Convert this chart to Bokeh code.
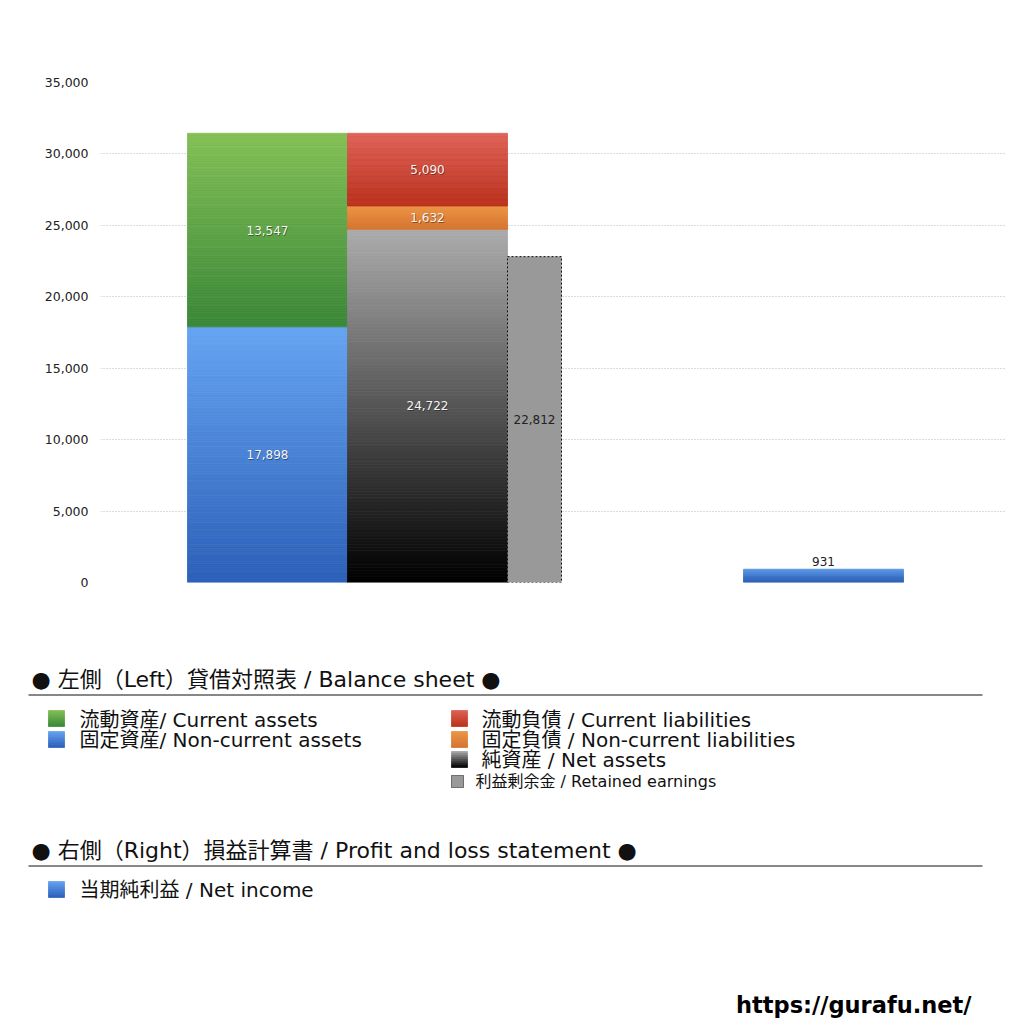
from bokeh.plotting import figure
from bokeh.models import Range1d, FixedTicker, NumeralTickFormatter, ColumnDataSource
from bokeh.embed import file_html
from bokeh.resources import INLINE
from bokeh.core.properties import value

# ---------------- data ----------------
current_assets = 13547
noncurrent_assets = 17898
current_liabilities = 5090
noncurrent_liabilities = 1632
net_assets = 24722
retained_earnings = 22812
net_income = 931
y_ticks = [0, 5000, 10000, 15000, 20000, 25000, 30000, 35000]

legend_left = ["流動資産/ Current assets", "固定資産/ Non-current assets"]
legend_right = ["流動負債 /  Current liabilities", "固定負債 / Non-current liabilities", "純資産 / Net assets"]
legend_retained = "利益剰余金 / Retained earnings"
heading_bs = "● 左側（Left）貸借対照表 / Balance sheet ●"
heading_pl = "● 右側（Right）損益計算書 / Profit and loss statement ●"
legend_pl = "当期純利益 / Net income"
url_text = "https://gurafu.net/"

FONT = "DejaVu Sans, Noto Sans CJK JP"

# ---------------- styles ----------------
GREEN = ((132, 192, 86), (58, 135, 56))
BLUE = ((102, 164, 242), (44, 96, 184))
RED = ((222, 98, 86), (186, 48, 28))
ORANGE = ((236, 150, 70), (214, 116, 48))
GRAY = ((172, 172, 172), (0, 0, 0))
NI_BLUE = ((92, 152, 232), (40, 92, 180))


def hexc(c):
    return "#%02x%02x%02x" % tuple(int(round(v)) for v in c)


def gradient(p, left, right, y_top, y_bot, cols, n=120):
    c_top, c_bot = cols
    L, R, T, B, C = [], [], [], [], []
    for i in range(n):
        t0 = i / n
        t1 = (i + 1) / n
        tm = (i + 0.5) / n
        L.append(left)
        R.append(right)
        T.append(y_top + (y_bot - y_top) * t0)
        B.append(y_top + (y_bot - y_top) * t1)
        C.append(hexc([a + (b - a) * tm for a, b in zip(c_top, c_bot)]))
    src = ColumnDataSource(dict(left=L, right=R, top=T, bottom=B, color=C))
    p.quad(left="left", right="right", top="top", bottom="bottom", source=src,
           fill_color="color", line_color="color", line_width=0.8)


# ---------------- chart figure ----------------
p = figure(width=1020, height=630, output_backend="svg", toolbar_location=None,
           x_range=Range1d(100, 1005), y_range=Range1d(0, 35000),
           min_border_left=100, min_border_right=15, min_border_top=82, min_border_bottom=48)
p.xaxis.visible = False
p.outline_line_color = None
p.xgrid.grid_line_color = None
p.ygrid.grid_line_color = "#b8b8b8"
p.ygrid.grid_line_dash = "1 2"
p.ygrid.grid_line_width = 1
p.yaxis.ticker = FixedTicker(ticks=y_ticks)
p.yaxis.formatter = NumeralTickFormatter(format="0,0")
p.yaxis.axis_line_color = None
p.yaxis.major_tick_line_color = None
p.yaxis.minor_tick_line_color = None
p.yaxis.major_label_standoff = 6
p.yaxis.major_label_text_font = FONT
p.yaxis.major_label_text_font_size = "12.5px"
p.yaxis.major_label_text_color = "#222222"
p.background_fill_color = None
p.border_fill_color = "white"

# positions (layout)
A_L, A_R = 187, 347
L_L, L_R = 347, 507
RE_L, RE_R = 507, 561
NI_L, NI_R = 743, 903

# assets stack
gradient(p, A_L, A_R, noncurrent_assets, 0, BLUE)
gradient(p, A_L, A_R, noncurrent_assets + current_assets, noncurrent_assets, GREEN)
# liabilities / net assets stack
gradient(p, L_L, L_R, net_assets, 0, GRAY)
gradient(p, L_L, L_R, net_assets + noncurrent_liabilities, net_assets, ORANGE, n=30)
gradient(p, L_L, L_R, net_assets + noncurrent_liabilities + current_liabilities,
         net_assets + noncurrent_liabilities, RED, n=60)
# retained earnings
p.quad(left=[RE_L], right=[RE_R], bottom=[0], top=[retained_earnings],
       fill_color="#999999", line_color="#111111", line_dash="2 2", line_width=1)
# net income
gradient(p, NI_L, NI_R, net_income, 0, NI_BLUE, n=12)

# value labels
lab_x = [(A_L + A_R) / 2, (A_L + A_R) / 2, (L_L + L_R) / 2, (L_L + L_R) / 2, (L_L + L_R) / 2]
lab_y = [noncurrent_assets / 2,
         noncurrent_assets + current_assets / 2,
         net_assets / 2,
         net_assets + noncurrent_liabilities / 2,
         net_assets + noncurrent_liabilities + current_liabilities / 2]
lab_t = ["{:,}".format(v) for v in [noncurrent_assets, current_assets, net_assets,
                                    noncurrent_liabilities, current_liabilities]]
p.text(x=lab_x, y=lab_y, text=lab_t, text_align="center", text_baseline="middle",
       text_font=value(FONT), text_font_size="12px", text_color="#000000", text_alpha=0.4,
       x_offset=0.7, y_offset=1)
p.text(x=lab_x, y=lab_y, text=lab_t, text_align="center", text_baseline="middle",
       text_font=value(FONT), text_font_size="12px", text_color="#f4f4f4")
p.text(x=[(RE_L + RE_R) / 2], y=[retained_earnings / 2], text=["{:,}".format(retained_earnings)],
       text_align="center", text_baseline="middle", text_font=value(FONT),
       text_font_size="12px", text_color="#222222")
p.text(x=[(NI_L + NI_R) / 2], y=[net_income], text=["{:,}".format(net_income)],
       text_align="center", text_baseline="bottom", text_font=value(FONT),
       text_font_size="12px", text_color="#222222", y_offset=-3)

# ---------------- legend figure ----------------
q = figure(width=1020, height=390, output_backend="svg", toolbar_location=None,
           x_range=Range1d(0, 1020), y_range=Range1d(1020, 630),
           x_axis_type=None, y_axis_type=None,
           min_border_left=0, min_border_right=0, min_border_top=0, min_border_bottom=0)
q.outline_line_color = None
q.xgrid.visible = False
q.ygrid.visible = False

# headings
q.text(x=[31, 31], y=[679, 850], text=[heading_bs, heading_pl], text_align="left",
       text_baseline="middle", text_font=value(FONT), text_font_size="22px", text_color="#111111")
q.segment(x0=[28, 28], x1=[982, 982], y0=[694.5, 865.5], y1=[694.5, 865.5],
          line_color="#111111", line_width=1)

# legend squares
gradient(q, 48, 64, 710, 726, GREEN, n=8)
gradient(q, 48, 64, 731, 747, BLUE, n=8)
gradient(q, 451, 467, 710, 726, RED, n=8)
gradient(q, 451, 467, 731, 747, ORANGE, n=8)
gradient(q, 451, 467, 751, 767, GRAY, n=8)
q.quad(left=[451], right=[463], top=[775], bottom=[787], fill_color="#999999",
       line_color="#111111", line_dash="1 1", line_width=1)
gradient(q, 48, 64, 881, 897, BLUE, n=8)

q.text(x=[79, 79], y=[719, 739], text=legend_left, text_align="left", text_baseline="middle",
       text_font=value(FONT), text_font_size="20px", text_color="#111111")
q.text(x=[481, 481, 481], y=[719, 739, 759], text=legend_right, text_align="left",
       text_baseline="middle", text_font=value(FONT), text_font_size="20px", text_color="#111111")
q.text(x=[475], y=[781], text=[legend_retained], text_align="left", text_baseline="middle",
       text_font=value(FONT), text_font_size="16px", text_color="#111111")
q.text(x=[79], y=[889], text=[legend_pl], text_align="left", text_baseline="middle",
       text_font=value(FONT), text_font_size="20px", text_color="#111111")

q.text(x=[971], y=[1004], text=[url_text], text_align="right", text_baseline="middle",
       text_font=value("DejaVu Sans"), text_font_size="22.5px", text_font_style="bold",
       text_color="#000000")

open("out.html", "w").write(file_html([p, q], INLINE))
